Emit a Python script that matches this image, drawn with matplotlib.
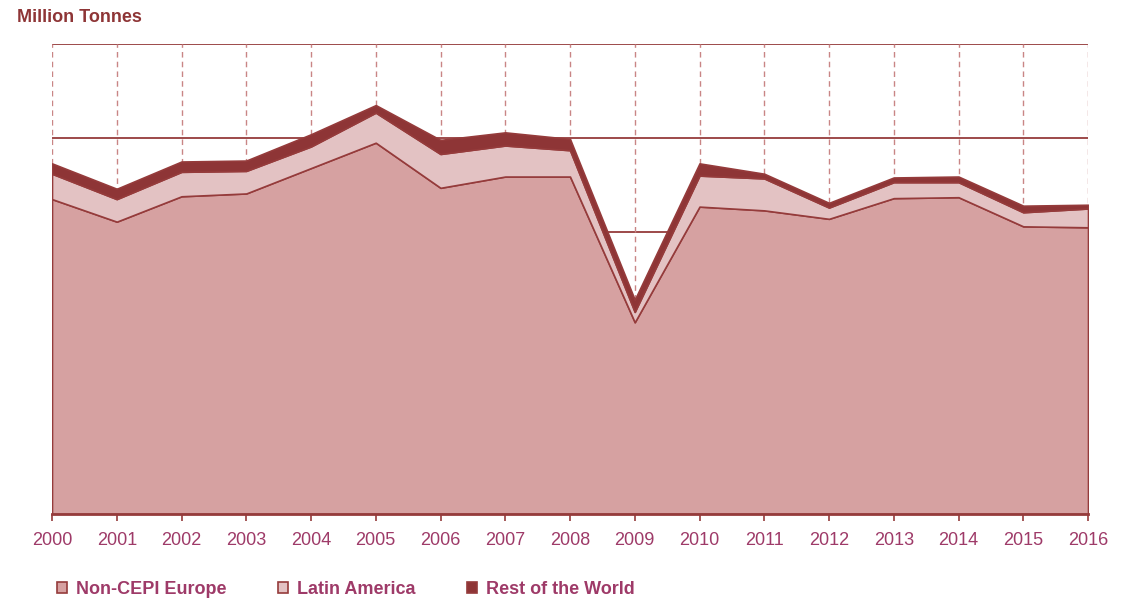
import matplotlib
matplotlib.use("Agg")
import matplotlib.pyplot as plt
from matplotlib.patches import Patch

years = list(range(2000, 2017))
non_cepi_europe = [3.35, 3.11, 3.38, 3.41, 3.68, 3.95, 3.47, 3.59, 3.59, 2.04,
                   3.27, 3.23, 3.14, 3.36, 3.37, 3.06, 3.05]
latin_america = [0.27, 0.24, 0.26, 0.24, 0.23, 0.32, 0.36, 0.33, 0.28, 0.11,
                 0.33, 0.34, 0.12, 0.17, 0.16, 0.15, 0.20]
rest_of_world = [0.11, 0.11, 0.11, 0.11, 0.13, 0.08, 0.15, 0.14, 0.12, 0.13,
                 0.13, 0.05, 0.05, 0.05, 0.06, 0.07, 0.04]
series_names = ["Non-CEPI Europe", "Latin America", "Rest of the World"]
y_ticks = [0, 1, 2, 3, 4, 5]

plt.rcParams['font.family'] = ['Liberation Sans', 'DejaVu Sans']

c_ne = "#D6A1A1"
c_la = "#E3C2C3"
c_row = "#8E3536"
edge = "#953B3B"
grid_c = "#953B3B"
vgrid_c = "#C98585"
tick_c = "#9E3A68"
title_c = "#8E3536"

fig = plt.figure(figsize=(11.36, 6.02), dpi=100)
ax = fig.add_axes([52/1136, 1-514/602, (1088-52)/1136, (514-44)/602])

# horizontal grid lines
for yv in y_ticks[1:]:
    ax.axhline(yv, color=grid_c, lw=1.3, zorder=1)
# vertical dashed lines
for x in years:
    ax.axvline(x, color=vgrid_c, lw=1.0, ls=(0, (4, 3)), zorder=1)

polys = ax.stackplot(years, non_cepi_europe, latin_america, rest_of_world,
                     colors=[c_ne, c_la, c_row], edgecolor=edge, linewidth=1.2,
                     zorder=2)

ax.set_xlim(2000, 2016)
ax.set_ylim(0, 5)
ax.set_yticks([])
ax.set_xticks(years)
ax.set_xticklabels([str(y) for y in years], fontsize=13, color=tick_c)
ax.tick_params(axis='x', length=5, width=1.2, color=grid_c, pad=8)
for s in ['top', 'right', 'left']:
    ax.spines[s].set_visible(False)
ax.spines['bottom'].set_color(grid_c)
ax.spines['bottom'].set_linewidth(2)
ax.spines['bottom'].set_zorder(3)

fig.text(17/1136, 1-17/602, "Million Tonnes", fontsize=13, fontweight='bold',
         color=title_c, va='center', ha='left')

handles = [Patch(facecolor=c, edgecolor=edge, linewidth=1.2) for c in [c_ne, c_la, c_row]]
leg = fig.legend(handles, series_names, loc='center left',
                 bbox_to_anchor=(57/1136, 1-589/602), ncol=3, frameon=False,
                 borderpad=0, borderaxespad=0,
                 handlelength=0.55, handleheight=0.55, handletextpad=0.5,
                 columnspacing=2.85, prop={'size': 13, 'weight': 'bold'})
for t in leg.get_texts():
    t.set_color(tick_c)

fig.savefig("out.png", dpi=100)
